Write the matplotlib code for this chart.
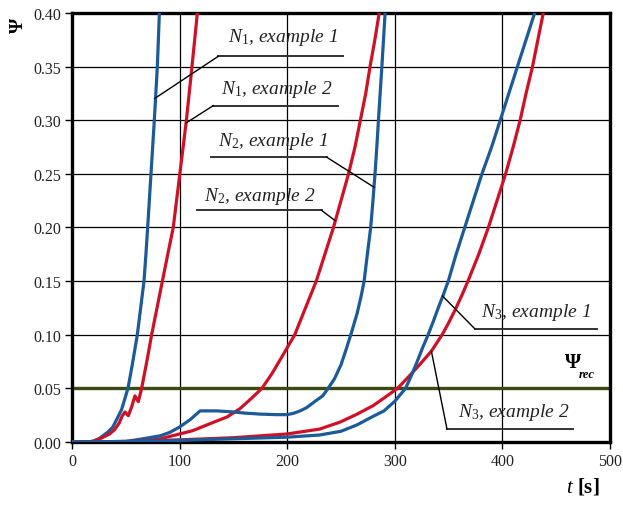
import matplotlib
matplotlib.use("Agg")
import matplotlib.pyplot as plt

plt.rcParams["font.family"] = ["Liberation Serif", "DejaVu Serif"]
plt.rcParams["mathtext.fontset"] = "custom"
plt.rcParams["mathtext.rm"] = "Liberation Serif"
plt.rcParams["mathtext.it"] = "Liberation Serif:italic"
plt.rcParams["mathtext.bf"] = "Liberation Serif:bold"

BLUE = "#1c5a98"
RED = "#cf1128"
GREEN = "#3b4a12"

# N1 -- example 1
t_n1_ex1 = [0, 15, 20, 25, 29, 33, 38, 42, 46, 49, 52, 56, 60.7, 63.8, 66.9, 68.7, 70.3, 73.4, 76.5, 79.3, 81.2]
psi_n1_ex1 = [0, 0, 0.001, 0.003, 0.006, 0.009, 0.014, 0.022, 0.03, 0.04, 0.05, 0.072, 0.10, 0.125, 0.15,
              0.175, 0.20, 0.25, 0.30, 0.35, 0.40]
# N1 -- example 2
t_n1_ex2 = [0, 18, 22, 28, 35, 40, 44, 46.5, 49.3, 52.3, 55.5, 58.5, 61.6, 64.7, 69.5, 74, 79, 84, 89,
            94.1, 100.2, 103.3, 106.3, 111.5, 116.5]
psi_n1_ex2 = [0, 0, 0.0015, 0.004, 0.0075, 0.012, 0.018, 0.024, 0.028, 0.0245, 0.033, 0.043, 0.0376, 0.05,
              0.075, 0.10, 0.125, 0.15, 0.175, 0.20, 0.25, 0.275, 0.30, 0.35, 0.40]
# N2 -- example 1
t_n2_ex1 = [0, 50, 66, 82, 91, 100, 110, 119, 135, 150, 160, 175, 190, 200, 206, 212, 218, 226, 233, 238,
            244, 250, 255, 260, 265, 268.5, 271.5, 274.5, 277.6, 279.7, 281.6, 283.3, 284.8, 288, 291]
psi_n2_ex1 = [0, 0.0005, 0.003, 0.0058, 0.009, 0.014, 0.021, 0.029, 0.029, 0.028, 0.027, 0.026, 0.0255,
              0.0255, 0.0268, 0.029, 0.032, 0.038, 0.043, 0.05, 0.059, 0.072, 0.087, 0.103, 0.12, 0.135,
              0.15, 0.175, 0.20, 0.225, 0.25, 0.275, 0.30, 0.35, 0.40]
# N2 -- example 2
t_n2_ex2 = [0, 60, 82, 100, 112, 128, 144, 156, 166, 176.5, 186, 196, 207, 217, 227, 235, 243, 250, 257,
            263, 268, 273, 277, 281.5, 285.5]
psi_n2_ex2 = [0, 0.0005, 0.003, 0.0075, 0.0105, 0.017, 0.0233, 0.031, 0.04, 0.05, 0.064, 0.081, 0.10,
              0.125, 0.15, 0.175, 0.20, 0.225, 0.25, 0.275, 0.30, 0.325, 0.35, 0.375, 0.40]
# N3 -- example 1
t_n3_ex1 = [0, 50, 100, 150, 200, 230, 250, 265, 280, 290, 300, 305, 310, 315, 320, 325.5, 331, 336, 340,
            345, 349.7, 357, 365, 373, 381, 390, 398, 406, 414, 422, 430]
psi_n3_ex1 = [0, 0.0005, 0.0015, 0.003, 0.0045, 0.0065, 0.010, 0.016, 0.024, 0.029, 0.038, 0.044, 0.05,
              0.061, 0.073, 0.087, 0.10, 0.113, 0.124, 0.137, 0.15, 0.175, 0.20, 0.225, 0.25, 0.275, 0.30,
              0.325, 0.35, 0.375, 0.40]
# N3 -- example 2
t_n3_ex2 = [0, 50, 100, 150, 200, 230, 249, 265, 280, 290, 302.5, 313, 323, 334, 344, 350, 356, 362, 368,
            378, 387, 395, 403, 410, 416.5, 422, 428, 433, 438]
psi_n3_ex2 = [0, 0.0005, 0.002, 0.004, 0.0075, 0.012, 0.0185, 0.026, 0.034, 0.041, 0.05, 0.061, 0.072,
              0.0847, 0.10, 0.111, 0.123, 0.136, 0.15, 0.175, 0.20, 0.225, 0.25, 0.275, 0.30, 0.325, 0.35,
              0.375, 0.40]

psi_rec = 0.05

x_ticks = [0, 100, 200, 300, 400, 500]
y_ticks = [0.00, 0.05, 0.10, 0.15, 0.20, 0.25, 0.30, 0.35, 0.40]

fig = plt.figure(figsize=(6.23, 5.06), dpi=100)
ax = fig.add_axes([0.1156, 0.1245, 0.8635, 0.848])

ax.set_xlim(0, 500)
ax.set_ylim(0, 0.40)
ax.set_xticks(x_ticks)
ax.set_yticks(y_ticks)
ax.set_xticklabels([str(v) for v in x_ticks])
ax.set_yticklabels([f"{v:.2f}" for v in y_ticks])
ax.grid(True, color="black", linewidth=0.9)
ax.set_axisbelow(True)
ax.tick_params(direction="out", length=5, width=1, labelsize=11.5, labelcolor="#222222", pad=3)
for s in ax.spines.values():
    s.set_linewidth(2.4)

ax.axhline(psi_rec, color=GREEN, linewidth=2.4, zorder=2)

lw = 2.3
for t, p, c in [(t_n1_ex1, psi_n1_ex1, BLUE), (t_n1_ex2, psi_n1_ex2, RED),
                (t_n2_ex2, psi_n2_ex2, RED), (t_n2_ex1, psi_n2_ex1, BLUE),
                (t_n3_ex2, psi_n3_ex2, RED), (t_n3_ex1, psi_n3_ex1, BLUE)]:
    ax.plot(t, p, color=c, linewidth=lw, solid_joinstyle="round", zorder=3, clip_on=True)

# Callout labels: text, text centre, underline y, underline x-range, leader target, which end the leader leaves
callouts = [
    (r"$N_1$, example 1", (196.1, 0.3776), 0.3596, (136.0, 251.9), (77.1, 0.3204), "left"),
    (r"$N_1$, example 2", (190.5, 0.3291), 0.3136, (131.3, 247.2), (106.0, 0.2974), "left"),
    (r"$N_2$, example 1", (186.8, 0.2809), 0.2655, (129.2, 236.7), (280.7, 0.2375), "right"),
    (r"$N_2$, example 2", (174.7, 0.2297), 0.2159, (116.2, 232.0), (244.4, 0.2064), "right"),
    (r"$N_3$, example 1", (431.2, 0.1221), 0.1054, (374.5, 487.9), (344.5, 0.1360), "left"),
    (r"$N_3$, example 2", (410.3, 0.0289), 0.0121, (348.5, 465.6), (334.0, 0.0847), "left"),
]
for label, (tx, ty), uy, (ux0, ux1), (px, py), side in callouts:
    ax.text(tx, ty, label, fontsize=14, style="italic", color="#222222",
            ha="center", va="center", zorder=5)
    ax.plot([ux0, ux1], [uy, uy], color="#333333", linewidth=1.4, zorder=4)
    cx = ux0 if side == "left" else ux1
    ax.plot([cx, px], [uy, py], color="black", linewidth=1.0, zorder=4)

ax.text(0.931, 0.186, r"$\mathbf{\Psi}$", transform=ax.transAxes, fontsize=15,
        ha="center", va="center", color="black")
ax.text(0.957, 0.158, "rec", transform=ax.transAxes, fontsize=9, style="italic",
        fontweight="bold", ha="center", va="center", color="black")

fig.text(18 / 623, 1 - 25 / 506, "Ψ", rotation=90, fontsize=14, fontweight="bold",
         ha="center", va="center")
fig.text(583 / 623, 1 - 487 / 506, r"$\mathbf{\mathit{t}}$ [s]", fontsize=15, fontweight="bold",
         ha="center", va="center")

fig.savefig("out.png", dpi=100)
